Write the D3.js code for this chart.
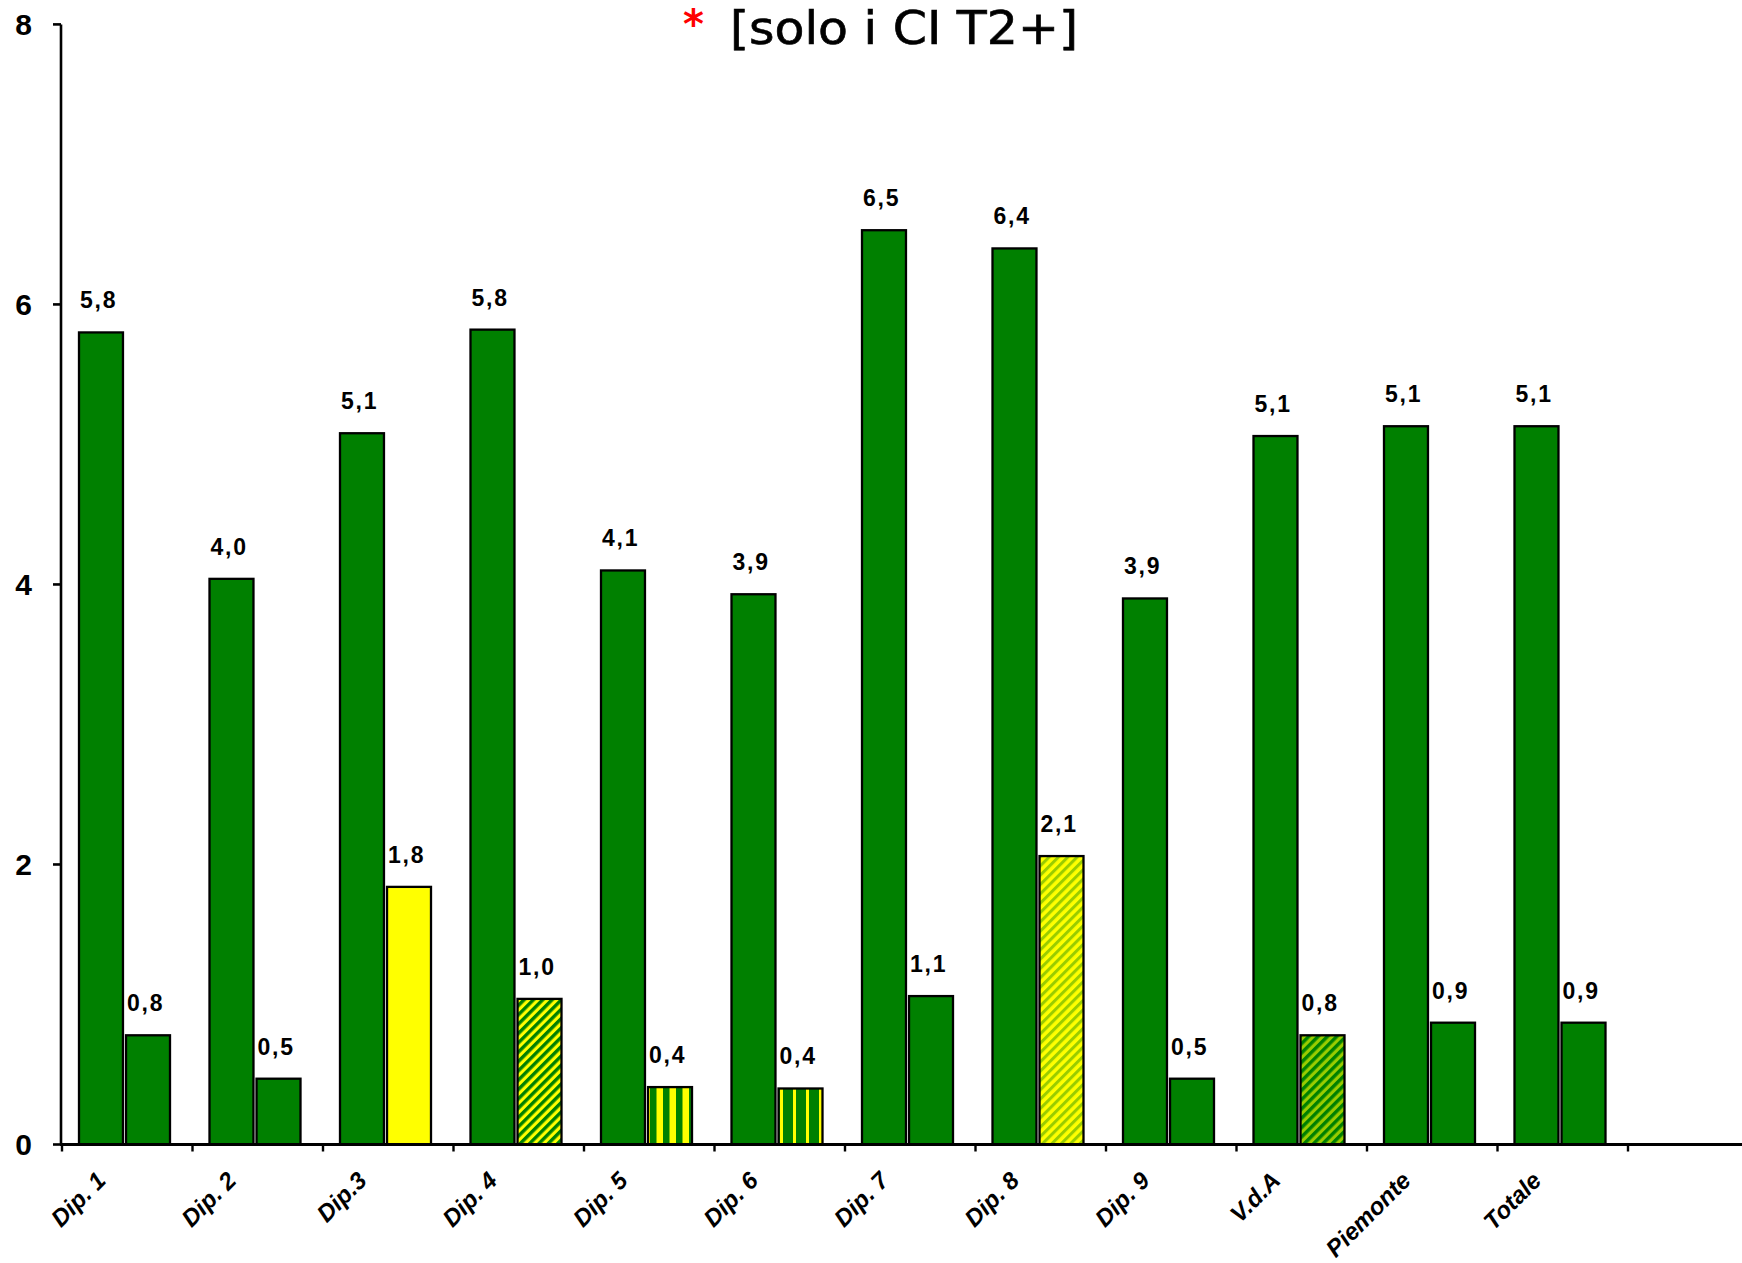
<!DOCTYPE html>
<html>
<head>
<meta charset="utf-8">
<script src="https://cdn.jsdelivr.net/npm/d3@7"></script>
<style>
  html, body { margin: 0; padding: 0; background: #fff; }
  svg { display: block; }
</style>
</head>
<body>
<script>
// ---- data ----
const categories = ["Dip. 1","Dip. 2","Dip.3","Dip. 4","Dip. 5","Dip. 6","Dip. 7","Dip. 8","Dip. 9","V.d.A","Piemonte","Totale"];
const seriesA = [5.80, 4.04, 5.08, 5.82, 4.10, 3.93, 6.53, 6.40, 3.90, 5.06, 5.13, 5.13];
const seriesB = [0.78, 0.47, 1.84, 1.04, 0.41, 0.40, 1.06, 2.06, 0.47, 0.78, 0.87, 0.87];
const seriesBClass = ["green","green","yellow","diagGreenYellow","vertYellowGreen","vertGreenThin","green","diagYellowLight","green","diagLightGreen","green","green"];
const yTicks = [0, 2, 4, 6, 8];
const titleText = "[solo i CI T2+]";

// ---- layout ----
const W = 1742, H = 1263;
const GREEN = "#008000", YELLOW = "#FFFF00", LIGHT = "#99CC00";

const svg = d3.select("body").append("svg").attr("width", W).attr("height", H);
const defs = svg.append("defs");

function stripePattern(id, bg, fg, period, fgWidth, angle) {
  const p = defs.append("pattern").attr("id", id)
    .attr("patternUnits", "userSpaceOnUse")
    .attr("width", period).attr("height", period);
  if (angle) p.attr("patternTransform", `rotate(${angle})`);
  p.append("rect").attr("width", period).attr("height", period).attr("fill", bg);
  p.append("rect").attr("x", 0).attr("width", fgWidth).attr("height", period).attr("fill", fg);
}
stripePattern("diagGreenYellow", YELLOW, GREEN, 6.6, 3.4, 45);
stripePattern("diagYellowLight", YELLOW, LIGHT, 6.6, 3.0, 45);
stripePattern("diagLightGreen", LIGHT, GREEN, 6.6, 3.4, 45);
stripePattern("vertYellowGreen", YELLOW, GREEN, 13, 6.5, 0);
stripePattern("vertGreenThin", GREEN, YELLOW, 13, 3, 0);

const fillFor = c => c === "green" ? GREEN : c === "yellow" ? YELLOW : `url(#${c})`;

const x = d3.scaleBand().domain(categories).range([62, 1628]).paddingInner(0).paddingOuter(0);
const sub = d3.scaleBand().domain(["A","B"]).range([17, 108]).paddingInner(0.065);
const y = d3.scaleLinear().domain([0, 8]).range([1144.5, 24.4]);

const fmt = v => d3.format(".1f")(v).replace(".", ",");

// bars
const g = svg.append("g");
categories.forEach((c, i) => {
  const bx = x(c);
  const vals = [
    {k: "A", v: seriesA[i], fill: GREEN},
    {k: "B", v: seriesB[i], fill: fillFor(seriesBClass[i])}
  ];
  vals.forEach(d => {
    const x0 = bx + sub(d.k);
    g.append("rect")
      .attr("x", x0).attr("y", y(d.v))
      .attr("width", sub.bandwidth()).attr("height", y(0) - y(d.v))
      .attr("fill", d.fill).attr("stroke", "#000").attr("stroke-width", 2.3);
    g.append("text")
      .attr("x", x0 + 1).attr("y", y(d.v) - 24)
      .attr("font-family", "'Liberation Sans', Arial, sans-serif")
      .attr("font-weight", "bold").attr("font-size", 23)
      .attr("letter-spacing", 1.8)
      .attr("fill", "#000")
      .text(fmt(d.v));
  });
});

// y axis
const yAxis = svg.append("g");
yAxis.append("line").attr("x1", 61).attr("x2", 61).attr("y1", y(8)).attr("y2", y(0))
  .attr("stroke", "#000").attr("stroke-width", 2.6);
yTicks.forEach(t => {
  yAxis.append("line").attr("x1", 53).attr("x2", 61).attr("y1", y(t)).attr("y2", y(t))
    .attr("stroke", "#000").attr("stroke-width", 2.6);
  yAxis.append("text").attr("x", 32).attr("y", y(t)).attr("dy", "0.36em")
    .attr("text-anchor", "end")
    .attr("font-family", "'Liberation Sans', Arial, sans-serif")
    .attr("font-weight", "bold").attr("font-size", 30)
    .text(t);
});

// x axis
const xAxis = svg.append("g");
xAxis.append("line").attr("x1", 60).attr("x2", W).attr("y1", y(0)).attr("y2", y(0))
  .attr("stroke", "#000").attr("stroke-width", 3);
const boundaries = categories.map(c => x(c)).concat([x(categories[categories.length - 1]) + x.bandwidth()]);
boundaries.forEach(bx => {
  xAxis.append("line").attr("x1", bx).attr("x2", bx).attr("y1", y(0)).attr("y2", y(0) + 7)
    .attr("stroke", "#000").attr("stroke-width", 2.4);
});
categories.forEach(c => {
  const cx = x(c) + x.bandwidth() / 2 - 20;
  const cy = 1182;
  xAxis.append("text")
    .attr("transform", `translate(${cx},${cy}) rotate(-45)`)
    .attr("text-anchor", "end")
    .attr("font-family", "'Liberation Sans', Arial, sans-serif")
    .attr("font-weight", "bold").attr("font-style", "italic").attr("font-size", 24)
    .text(c);
});

// title
svg.append("text").attr("x", 683).attr("y", 38)
  .attr("font-family", "'DejaVu Sans', sans-serif")
  .attr("font-weight", "bold").attr("font-size", 40).attr("fill", "#ff0000")
  .text("*");
svg.append("text").attr("x", 730).attr("y", 44)
  .attr("font-family", "'DejaVu Sans Condensed', 'DejaVu Sans', sans-serif")
  .attr("font-size", 46).attr("fill", "#000")
  .attr("stroke", "#000").attr("stroke-width", 0.6)
  .attr("textLength", 348).attr("lengthAdjust", "spacingAndGlyphs")
  .text(titleText);
</script>
</body>
</html>
